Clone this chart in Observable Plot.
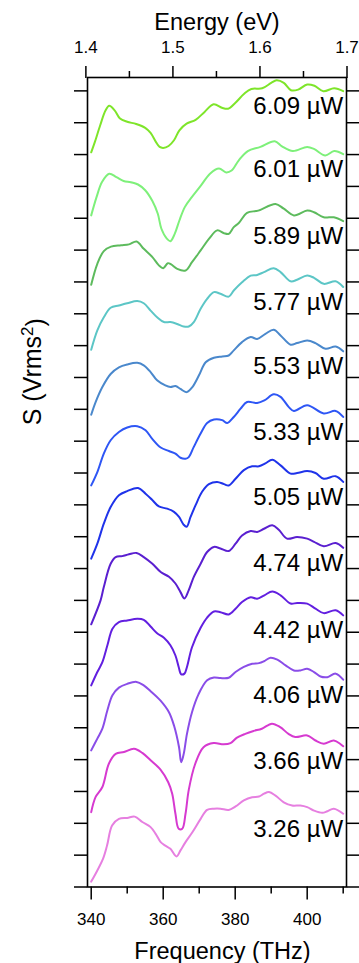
<!DOCTYPE html>
<html>
<head>
<meta charset="utf-8">
<script src="https://cdn.jsdelivr.net/npm/d3@7"></script>
<script src="https://cdn.jsdelivr.net/npm/@observablehq/plot@0.6"></script>
<style>
  html, body { margin: 0; padding: 0; background: #fff; }
  #chart { width: 359px; height: 963px; }
</style>
</head>
<body>
<div id="chart"></div>
<script>
// ---- Data ----
const powerLabels = ["6.09 µW","6.01 µW","5.89 µW","5.77 µW","5.53 µW","5.33 µW","5.05 µW","4.74 µW","4.42 µW","4.06 µW","3.66 µW","3.26 µW"];
const powerColors = ["#7ee52a","#7ef07a","#5dbb5d","#5cc6c6","#4a88cc","#2e56f5","#1f33ea","#5a1fd0","#621fe0","#8a4de8","#d63ad0","#e67fe0"];

const f609 = [340,341,342.5,344,345,346.5,348,350,352.5,355,356.5,358,359,360,361.5,363,364.5,366.5,369,371.5,374,376.5,378,380,382.5,384.5,387.5,390,391.5,393.5,395.5,397.5,400,402,404.5,407.5,410];
const s609 = [23.07,23.39,23.92,24.39,24.53,24.39,24.13,24.03,23.96,23.84,23.68,23.39,23.24,23.21,23.27,23.45,23.76,23.97,24.09,24.34,24.58,24.46,24.44,24.62,24.91,25.06,25.08,25.25,25.33,25.25,25.02,25.04,25.20,25.16,24.99,25.08,24.99];

const f601 = [340,341.5,343,345,347,349,351,353,355,357,358.5,359.5,361,362,363.2,364.5,366,368,370.5,373,375.5,377.5,379,381,383.5,387,391,393,396,400,402,405,407.5,410];
const s601 = [21.09,21.67,22.14,22.40,22.29,22.17,22.13,22.06,21.88,21.54,21.14,20.67,20.36,20.28,20.51,20.93,21.35,21.67,22.03,22.40,22.56,22.44,22.50,22.82,23.11,23.24,23.42,23.26,23.11,23.24,23.17,22.97,23.11,23.01];

const f589 = [340,341.7,343.5,345.5,348.3,350.5,352.6,354.6,357,358.8,360,361.3,362.2,363.9,366.2,368,370.4,372.7,375,376.9,378.2,379.6,381,383.3,386.4,391.2,393.5,396.3,400,401.9,404.6,407.4,410];
const s589 = [18.91,19.57,19.97,20.11,20.15,20.18,20.27,20.04,19.78,19.52,19.43,19.59,19.55,19.41,19.36,19.62,19.99,20.35,20.62,20.53,20.51,20.72,20.85,21.17,21.24,21.45,21.30,21.09,21.24,21.19,21.03,21.03,20.91];

const f577 = [340,341.7,343.5,345.4,347.7,350,352.8,354.6,356.5,358.3,360.2,362,363.9,365.7,367.1,368.5,370.4,372.2,374.1,375.9,378.2,379.6,381.9,384.3,386.1,388,390.7,392.6,395.4,397.2,400,401.9,404.6,407.9,410];
const s577 = [16.87,17.48,17.89,18.19,18.26,18.33,18.40,18.33,18.10,17.89,17.74,17.74,17.68,17.60,17.60,17.74,18.16,18.47,18.68,18.63,18.54,18.73,18.99,19.20,19.22,19.31,19.43,19.31,19.02,19.07,19.20,19.13,18.94,19.02,18.84];

const f553 = [340,341.2,343.1,345.4,347.7,350,352.8,354.6,356.5,358.3,360.6,362,363.4,364.8,366.5,368.1,369.9,371.8,374.1,376.4,378.2,379.6,381.9,384.3,386.1,388.4,390.7,392.6,395.4,397.2,400,402.3,405.1,407.9,410];
const s553 = [14.83,15.22,15.70,16.11,16.32,16.41,16.46,16.38,16.17,15.91,15.75,15.70,15.73,15.64,15.54,15.70,16.06,16.48,16.62,16.66,16.69,16.85,17.11,17.27,17.21,17.37,17.50,17.32,17.03,17.08,17.16,17.08,16.90,16.97,16.82];

const f533 = [340,341.7,343.5,345.4,347.7,350,352.8,355.1,356.9,359.3,361.6,363.4,364.8,366.2,367.1,368.5,370.4,372.2,374.1,376.4,377.8,379.6,381.5,383.3,386.1,388.1,390.7,392.6,394.9,396.3,400,404.6,407.9,410];
const s533 = [12.61,13.03,13.61,14.03,14.29,14.43,14.47,14.34,14.08,13.80,13.69,13.61,13.48,13.45,13.50,13.82,14.24,14.57,14.68,14.66,14.57,14.76,15.02,15.23,15.20,15.28,15.47,15.39,15.07,14.95,15.13,14.87,14.95,14.76];

const f505 = [340,341.7,343.5,345.4,347.7,350,353,355.1,356.9,358.8,361.1,363,364.4,365.6,366.5,367.6,369,370.8,372.7,375,376.9,378.2,380.1,382.4,384.7,386.6,388.4,390.3,392.6,395.4,397.2,400,402.3,404.6,407.9,410];
const s505 = [10.31,10.78,11.41,11.93,12.30,12.43,12.53,12.35,12.16,11.95,11.88,11.78,11.62,11.39,11.31,11.62,11.99,12.41,12.65,12.72,12.65,12.61,12.82,13.09,13.21,13.21,13.30,13.42,13.24,12.98,13.00,13.06,13.00,12.82,12.90,12.72];

const f474 = [340,342.6,343.5,345.4,346.8,348.6,350.5,352.6,354.6,357,359.3,361.6,363.4,364.8,365.9,367.1,368.5,370.4,372.2,374.1,375.9,378.2,380.1,381.9,384.3,386.1,388,390.3,392.1,394.4,397.2,400,401.9,404.6,407.9,410];
const s474 = [8.25,9.00,9.42,10.15,10.36,10.39,10.45,10.49,10.36,10.15,9.89,9.74,9.53,9.26,9.06,9.32,9.74,10.15,10.52,10.68,10.63,10.55,10.78,11.04,11.18,11.15,11.25,11.36,11.22,10.94,10.99,10.94,10.84,10.70,10.80,10.65];

const f442 = [340,341.7,343.1,344.5,345.9,347.7,350,352.8,354.6,356.5,358.3,360.2,362,363.4,364.3,365,365.9,366.6,368,370.4,372.2,374.1,375.9,378.2,380.1,381.9,384.3,386.1,388.1,390.3,392.6,395.4,397.2,400,402.3,404.6,407.9,410];
const s442 = [6.33,6.75,7.06,7.59,8.11,8.32,8.37,8.42,8.39,8.18,7.97,7.83,7.59,7.27,6.91,6.68,6.70,6.91,7.53,8.14,8.46,8.65,8.63,8.56,8.74,8.95,9.10,9.05,9.16,9.28,9.16,8.90,8.92,8.90,8.74,8.60,8.69,8.53];

const f406 = [340,341.7,343.1,344.5,345.9,347.7,350,352.6,354.6,356.5,359.2,361.6,363,364.4,365,365.7,366.6,368,369.8,372.2,374.1,375.9,378.2,380.1,382.4,384.7,386.6,388,389.8,391.7,394,396.3,398.1,400,401.9,403.7,405.6,407.9,410];
const s406 = [4.29,4.66,4.97,5.55,6.02,6.26,6.38,6.44,6.33,6.15,5.86,5.49,5.07,4.39,3.92,4.18,4.81,5.49,6.05,6.49,6.58,6.56,6.57,6.75,6.91,7.01,7.03,7.09,7.20,7.14,6.96,6.80,6.80,6.85,6.75,6.61,6.59,6.70,6.51];

const f366 = [340,341.2,343.1,344.9,346.8,349.1,351.9,354.2,356.5,359.3,361.4,362.5,363.4,364.3,365.3,366.2,367.1,368.9,371.2,374,376.8,378.7,380.5,382.8,385.1,387.4,390.2,392.5,394.8,396.7,400,402.3,404.6,407.4,410];
const s366 = [2.35,2.82,3.14,3.87,4.18,4.24,4.34,4.21,3.98,3.68,3.29,2.93,2.30,1.83,1.83,2.30,3.05,3.87,4.39,4.52,4.48,4.52,4.69,4.81,4.90,4.97,5.13,5.02,4.81,4.71,4.76,4.60,4.50,4.60,4.42];

const f326 = [340,341.7,343.3,344.4,345.8,347.7,350,352.1,354.2,356.5,357.9,359.3,360.6,362,363.7,364.8,366.2,368.1,370.4,372.2,374.1,375.9,378.2,380.1,382.4,384.7,386.6,388,389.4,391.2,393.5,395.8,398.1,400,401.9,404.2,405.6,407.4,410];
const s326 = [0.17,0.52,0.89,1.30,1.93,2.14,2.17,2.21,2.04,1.88,1.67,1.41,1.30,1.20,0.96,1.15,1.41,1.72,2.14,2.42,2.46,2.46,2.42,2.53,2.72,2.82,2.84,2.93,2.98,2.87,2.66,2.56,2.56,2.51,2.40,2.33,2.38,2.46,2.30];

// Axis ticks
const freqMajor = [340, 360, 380, 400];
const freqMinor = [350, 370, 390, 410];
const energyMajor = [1.4, 1.5, 1.6, 1.7];
const energyMinor = [1.45, 1.55, 1.65];
const THZ_PER_EV = 241.8;
const yTicks = d3.range(0, 26);

// ---- Build table ----
const freqs = [f609,f601,f589,f577,f553,f533,f505,f474,f442,f406,f366,f326];
const sigs  = [s609,s601,s589,s577,s553,s533,s505,s474,s442,s406,s366,s326];
const rows = [];
const ends = [];
powerLabels.forEach((lab, k) => {
  freqs[k].forEach((f, i) => rows.push({freq: f, S: sigs[k][i], power: lab}));
  const n = freqs[k].length - 1;
  ends.push({freq: freqs[k][n], S: sigs[k][n], label: lab});
});

const font = "'Liberation Sans', Arial, Helvetica, sans-serif";

const chart = Plot.plot({
  width: 359,
  height: 963,
  marginLeft: 87,
  marginRight: 13,
  marginTop: 77,
  marginBottom: 76.5,
  x: {domain: [338.97, 410.92]},
  y: {domain: [0, 25.42]},
  color: {domain: powerLabels, range: powerColors},
  style: {fontFamily: font, background: "white", color: "black", overflow: "visible"},
  marks: [
    Plot.line(rows, {x: "freq", y: "S", z: "power", stroke: "power", strokeWidth: 2, curve: "catmull-rom"}),
    Plot.text(ends, {x: "freq", y: "S", text: "label", textAnchor: "end", lineAnchor: "bottom", dy: 23, fontSize: 24, fill: "black"}),
    Plot.frame({stroke: "black", strokeWidth: 1.6}),
    Plot.axisX({anchor: "bottom", ticks: freqMajor, tickSize: 13, tickPadding: 12.5, fontSize: 17, label: null, strokeWidth: 1.5}),
    Plot.axisX({anchor: "bottom", ticks: freqMinor, tickSize: 7, tickFormat: () => "", label: null, strokeWidth: 1.5}),
    Plot.axisX({anchor: "top", ticks: energyMajor.map(e => e * THZ_PER_EV), tickSize: 12, tickPadding: 13, fontSize: 17,
                tickFormat: d => d3.format(".1f")(d / THZ_PER_EV), label: null, strokeWidth: 1.5}),
    Plot.axisX({anchor: "top", ticks: energyMinor.map(e => e * THZ_PER_EV), tickSize: 7, tickFormat: () => "", label: null, strokeWidth: 1.5}),
    Plot.axisY({anchor: "left", ticks: yTicks, tickSize: 13, tickFormat: () => "", label: null, strokeWidth: 1.5}),
    Plot.axisY({anchor: "right", ticks: yTicks, tickSize: 13, tickFormat: () => "", label: null, strokeWidth: 1.5}),
    Plot.text(["Energy (eV)"], {text: d => d, frameAnchor: "top", dy: -48, lineAnchor: "bottom", fontSize: 23.5, fill: "black"}),
    Plot.text(["Frequency (THz)"], {text: d => d, frameAnchor: "bottom", dx: 5.5, dy: 71.5, lineAnchor: "bottom", fontSize: 23.5, fill: "black"}),
    Plot.text(["S (Vrms2)"], {text: d => d, frameAnchor: "left", rotate: -90, dx: -47, dy: -57, lineAnchor: "bottom", fontSize: 25, fill: "black"})
  ]
});

// superscript on the y title
d3.select(chart).selectAll("text").each(function() {
  if (this.textContent === "S (Vrms2)") {
    const t = d3.select(this);
    t.text("S (Vrms");
    t.append("tspan").attr("dy", "-0.45em").attr("font-size", "0.68em").text("2");
    t.append("tspan").attr("dy", "0.45em").text(")");
  }
});

document.getElementById("chart").appendChild(chart);
</script>
</body>
</html>
